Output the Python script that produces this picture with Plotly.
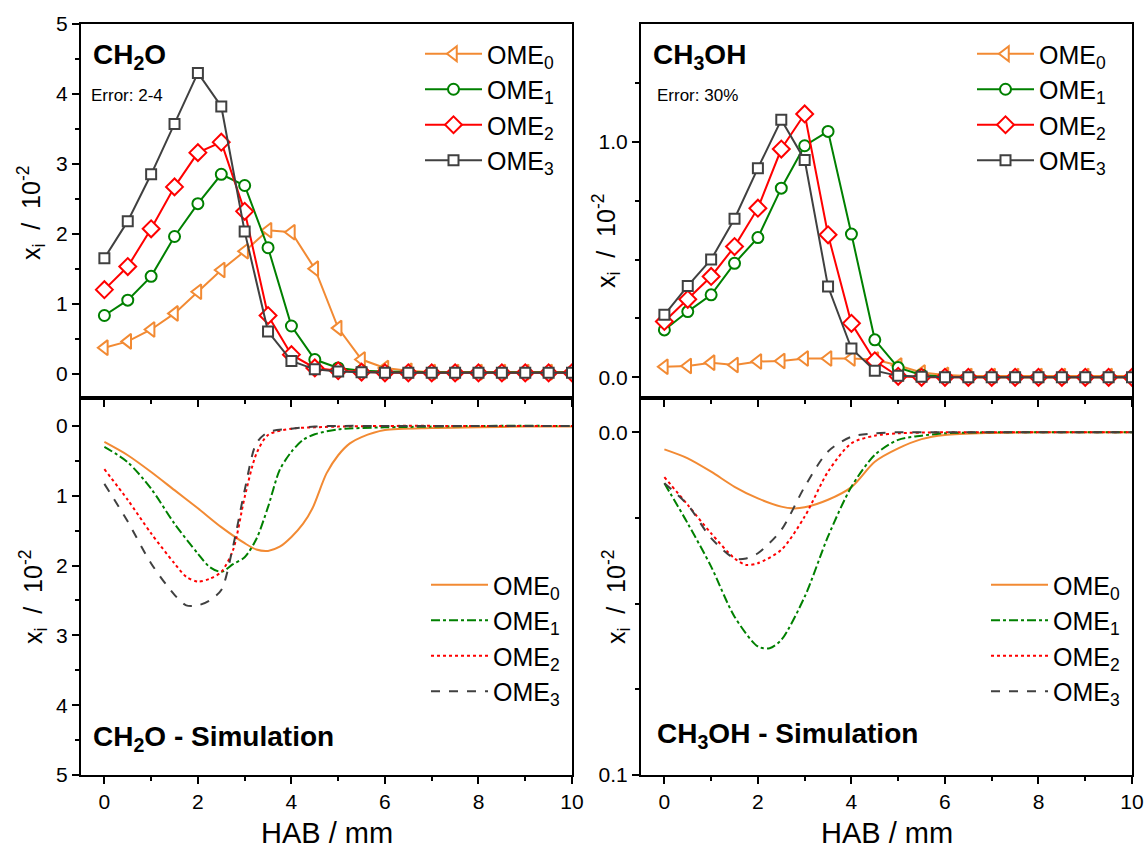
import plotly.graph_objects as go

# ---------------- data ----------------
hab = [0, 0.5, 1, 1.5, 2, 2.5, 3, 3.5, 4, 4.5, 5, 5.5, 6, 6.5, 7, 7.5, 8, 8.5, 9, 9.5, 10]

ch2o_ome0 = [0.37, 0.46, 0.63, 0.86, 1.17, 1.48, 1.75, 2.05, 2.02, 1.50, 0.65, 0.20, 0.08, 0.04, 0.02, 0.02, 0.02, 0.02, 0.02, 0.02, 0.02]
ch2o_ome1 = [0.83, 1.05, 1.39, 1.96, 2.43, 2.85, 2.69, 1.80, 0.68, 0.20, 0.08, 0.04, 0.03, 0.02, 0.02, 0.02, 0.02, 0.02, 0.02, 0.02, 0.02]
ch2o_ome2 = [1.20, 1.53, 2.07, 2.67, 3.16, 3.31, 2.32, 0.83, 0.27, 0.08, 0.04, 0.02, 0.01, 0.01, 0.01, 0.01, 0.01, 0.01, 0.01, 0.01, 0.01]
ch2o_ome3 = [1.65, 2.18, 2.85, 3.57, 4.30, 3.82, 2.03, 0.60, 0.18, 0.06, 0.03, 0.02, 0.01, 0.01, 0.01, 0.01, 0.01, 0.01, 0.01, 0.01, 0.01]

ch3oh_ome0 = [0.045, 0.048, 0.062, 0.052, 0.067, 0.069, 0.080, 0.080, 0.080, 0.075, 0.050, 0.020, 0.010, 0.005, 0.005, 0.005, 0.005, 0.005, 0.005, 0.005, 0.005]
ch3oh_ome1 = [0.201, 0.279, 0.350, 0.484, 0.593, 0.803, 0.983, 1.044, 0.608, 0.159, 0.041, 0.010, 0.002, 0.0, 0.0, 0.0, 0.0, 0.0, 0.0, 0.0, 0.0]
ch3oh_ome2 = [0.237, 0.331, 0.428, 0.555, 0.718, 0.969, 1.118, 0.605, 0.229, 0.070, 0.004, 0.0, 0.0, 0.0, 0.0, 0.0, 0.0, 0.0, 0.0, 0.0, 0.0]
ch3oh_ome3 = [0.265, 0.388, 0.500, 0.673, 0.888, 1.093, 0.923, 0.385, 0.122, 0.028, 0.006, 0.002, 0.0, 0.0, 0.0, 0.0, 0.0, 0.0, 0.0, 0.0, 0.0]

# simulation (left, CH2O)
sim_l0_x = [0, 0.5, 1, 1.5, 2, 2.5, 3, 3.25, 3.5, 3.75, 4, 4.25, 4.45, 4.75, 5, 5.25, 5.5, 6, 7, 8, 9, 10]
sim_l0_y = [0.23, 0.42, 0.66, 0.92, 1.18, 1.45, 1.68, 1.77, 1.79, 1.73, 1.59, 1.40, 1.18, 0.68, 0.42, 0.25, 0.16, 0.06, 0.03, 0.02, 0.01, 0.01]
sim_l1_x = [0, 0.5, 1, 1.5, 2, 2.25, 2.5, 2.75, 3, 3.25, 3.5, 3.75, 4, 4.25, 4.5, 5, 6, 7, 8, 10]
sim_l1_y = [0.30, 0.52, 0.90, 1.40, 1.83, 2.02, 2.09, 1.98, 1.88, 1.62, 1.16, 0.63, 0.37, 0.20, 0.12, 0.05, 0.02, 0.01, 0.0, 0.0]
sim_l2_x = [0, 0.5, 1, 1.5, 1.75, 2, 2.25, 2.5, 2.75, 3, 3.25, 3.5, 4, 4.5, 5, 6, 8, 10]
sim_l2_y = [0.62, 1.06, 1.54, 1.97, 2.16, 2.23, 2.19, 2.09, 1.78, 1.02, 0.40, 0.13, 0.04, 0.02, 0.01, 0.0, 0.0, 0.0]
sim_l3_x = [0, 0.5, 1, 1.5, 1.75, 2, 2.25, 2.5, 2.75, 3, 3.25, 3.5, 4, 4.5, 5, 6, 8, 10]
sim_l3_y = [0.83, 1.37, 1.97, 2.42, 2.57, 2.57, 2.50, 2.35, 1.73, 0.92, 0.25, 0.09, 0.04, 0.01, 0.0, 0.0, 0.0, 0.0]

# simulation (right, CH3OH)
sim_r0_x = [0, 0.5, 1, 1.5, 2, 2.5, 2.75, 3, 3.5, 4, 4.5, 5, 5.5, 6, 7, 8, 10]
sim_r0_y = [0.0050, 0.0076, 0.0115, 0.0159, 0.0193, 0.0217, 0.0222, 0.0219, 0.0197, 0.0160, 0.0086, 0.0047, 0.0020, 0.0008, 0.0002, 0.0, 0.0]
sim_r1_x = [0, 0.5, 1, 1.5, 2, 2.25, 2.5, 3, 3.5, 4, 4.5, 5, 5.5, 6, 7, 8, 10]
sim_r1_y = [0.0149, 0.0266, 0.0392, 0.0538, 0.0625, 0.0630, 0.0606, 0.0480, 0.0304, 0.0159, 0.0066, 0.0022, 0.0010, 0.0003, 0.0, 0.0, 0.0]
sim_r2_x = [0, 0.5, 1, 1.5, 1.75, 2, 2.5, 3, 3.5, 4, 4.5, 5, 6, 8, 10]
sim_r2_y = [0.0131, 0.0212, 0.0295, 0.0368, 0.0387, 0.0382, 0.0343, 0.0246, 0.0115, 0.0032, 0.0010, 0.0003, 0.0, 0.0, 0.0]
sim_r3_x = [0, 0.5, 1, 1.5, 1.75, 2, 2.5, 3, 3.5, 4, 4.5, 5, 6, 8, 10]
sim_r3_y = [0.0149, 0.0212, 0.0309, 0.0368, 0.0368, 0.0353, 0.0285, 0.0159, 0.0056, 0.0013, 0.0003, 0.0, 0.0, 0.0, 0.0]

names = ["OME<sub>0</sub>", "OME<sub>1</sub>", "OME<sub>2</sub>", "OME<sub>3</sub>"]
colors = ["#F28A33", "#008000", "#FF0000", "#404040"]
symbols = ["triangle-left", "circle", "diamond", "square"]
msizes = [13, 11, 13, 10]
dashes = ["solid", "dashdot", "dot", "dash"]

FONT = "Liberation Sans, Arial, sans-serif"

fig = go.Figure()

def add_exp(ys, xa, ya, leg):
    for i, y in enumerate(ys):
        fig.add_trace(go.Scatter(
            x=hab, y=y, mode="lines+markers", name=names[i],
            line=dict(color=colors[i], width=2),
            marker=dict(symbol=symbols[i], size=msizes[i], color="white",
                        line=dict(color=colors[i], width=2)),
            xaxis=xa, yaxis=ya, legend=leg))

def add_sim(xs, ys, xa, ya, leg):
    for i in range(4):
        fig.add_trace(go.Scatter(
            x=xs[i], y=ys[i], mode="lines", name=names[i],
            line=dict(color=colors[i], width=2, dash=dashes[i], shape="spline", smoothing=0.8),
            xaxis=xa, yaxis=ya, legend=leg))

add_exp([ch2o_ome0, ch2o_ome1, ch2o_ome2, ch2o_ome3], "x", "y", "legend")
add_exp([ch3oh_ome0, ch3oh_ome1, ch3oh_ome2, ch3oh_ome3], "x2", "y2", "legend2")
add_sim([sim_l0_x, sim_l1_x, sim_l2_x, sim_l3_x], [sim_l0_y, sim_l1_y, sim_l2_y, sim_l3_y], "x3", "y3", "legend3")
add_sim([sim_r0_x, sim_r1_x, sim_r2_x, sim_r3_x], [sim_r0_y, sim_r1_y, sim_r2_y, sim_r3_y], "x4", "y4", "legend4")

W, H = 1146, 852
def px(v): return v / W
def py(v): return 1 - v / H

colL = [px(81), px(572)]
colR = [px(641), px(1132)]
rowT = [py(398), py(24)]
rowB = [py(775), py(398)]

axcommon = dict(showline=True, linecolor="black", linewidth=2, mirror=True,
                ticks="outside", ticklen=7, tickwidth=2, tickcolor="black",
                showgrid=False, zeroline=False, automargin=False,
                tickfont=dict(family=FONT, size=21, color="black"))
minor_x = dict(dtick=1, ticklen=4, tickwidth=2, tickcolor="black", ticks="outside")

xcommon = dict(range=[-0.5, 10], dtick=2, tick0=0, minor=minor_x, **axcommon)

fig.update_layout(
    template="none",
    width=W, height=H,
    margin=dict(l=0, r=0, t=0, b=0, autoexpand=False),
    paper_bgcolor="white", plot_bgcolor="white",
    font=dict(family=FONT, color="black"),
    xaxis=dict(domain=colL, anchor="y", showticklabels=False, **xcommon),
    xaxis2=dict(domain=colR, anchor="y2", showticklabels=False, **xcommon),
    xaxis3=dict(domain=colL, anchor="y3", **xcommon),
    xaxis4=dict(domain=colR, anchor="y4", **xcommon),
    yaxis=dict(domain=rowT, anchor="x", range=[-0.35, 5], dtick=1, tick0=0,
               minor=dict(dtick=0.5, ticklen=4, tickwidth=2, tickcolor="black", ticks="outside"), **axcommon),
    yaxis2=dict(domain=rowT, anchor="x2", range=[-0.088, 1.5], tickvals=[0, 1], ticktext=["0.0", "1.0"],
                minor=dict(tickvals=[0.25, 0.5, 0.75, 1.25], ticklen=4, tickwidth=2, tickcolor="black", ticks="outside"), **axcommon),
    yaxis3=dict(domain=rowB, anchor="x3", range=[5, -0.4], dtick=1, tick0=0,
                minor=dict(dtick=0.5, ticklen=4, tickwidth=2, tickcolor="black", ticks="outside"), **axcommon),
    yaxis4=dict(domain=rowB, anchor="x4", range=[0.1, -0.01], tickvals=[0, 0.1], ticktext=["0.0", "0.1"],
                minor=dict(tickvals=[0.025, 0.05, 0.075], ticklen=4, tickwidth=2, tickcolor="black", ticks="outside"), **axcommon),
)

legcommon = dict(font=dict(family=FONT, size=25, color="black"), bgcolor="rgba(0,0,0,0)",
                 borderwidth=0, itemwidth=57, xanchor="left", yanchor="top",
                 tracegroupgap=0, itemclick=False)
fig.update_layout(
    legend=dict(x=px(420), y=py(31), **legcommon),
    legend2=dict(x=px(972), y=py(31), **legcommon),
    legend3=dict(x=px(426), y=py(562), **legcommon),
    legend4=dict(x=px(986), y=py(562), **legcommon),
)

def ann(text, x, y, size, bold=False, angle=0, xanchor="left", yanchor="middle"):
    if bold:
        text = "<b>" + text + "</b>"
    fig.add_annotation(text=text, x=px(x), y=py(y), xref="paper", yref="paper",
                       xanchor=xanchor, yanchor=yanchor, showarrow=False, textangle=angle,
                       font=dict(family=FONT, size=size, color="black"))

ann("CH<sub>2</sub>O", 91, 56, 28, bold=True)
ann("Error: 2-4", 89, 96, 17)
ann("CH<sub>3</sub>OH", 651, 56, 28, bold=True)
ann("Error: 30%", 655, 96, 17)
ann("CH<sub>2</sub>O - Simulation", 91, 738, 28, bold=True)
ann("CH<sub>3</sub>OH - Simulation", 655, 735, 28, bold=True)

ann("x<sub>i</sub>  /  10<sup>-2</sup>", 31, 213, 25, angle=-90, xanchor="center")
ann("x<sub>i</sub>  /  10<sup>-2</sup>", 33, 597, 25, angle=-90, xanchor="center")
ann("x<sub>i</sub>  /  10<sup>-2</sup>", 606, 240, 25, angle=-90, xanchor="center")
ann("x<sub>i</sub>  /  10<sup>-2</sup>", 616, 597, 25, angle=-90, xanchor="center")

ann("HAB / mm", 327, 851, 29, xanchor="center", yanchor="bottom")
ann("HAB / mm", 887, 851, 29, xanchor="center", yanchor="bottom")

fig.write_html("out.html", config={"displayModeBar": False},
               post_script="document.body.style.margin='0px';document.body.style.overflow='hidden';")
